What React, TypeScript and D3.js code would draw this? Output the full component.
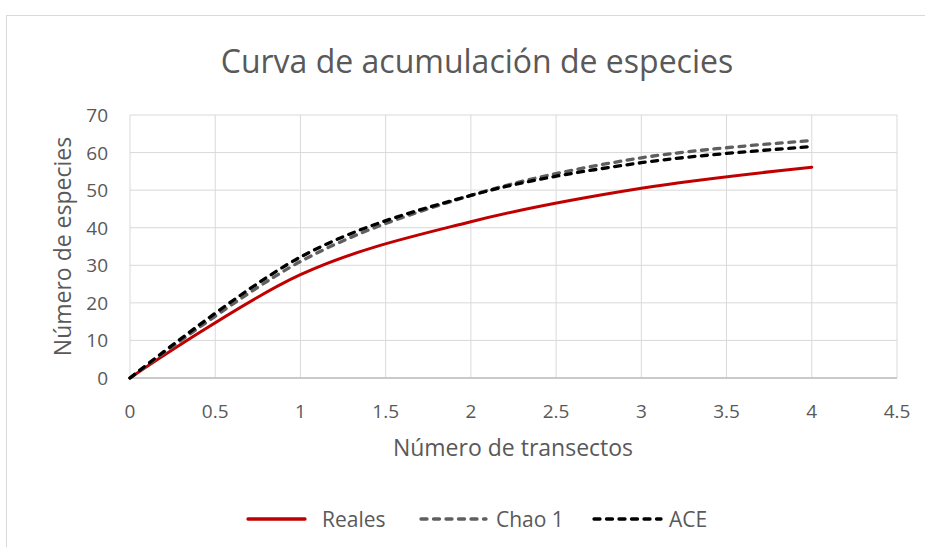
import React from "react";
import * as d3 from "d3";

const transectos = [0, 1, 2, 3, 4];
const reales = [0, 27.5, 41.6, 50.5, 56.1];
const chao1 = [0, 31, 48.6, 58.6, 63.2];
const ace = [0, 32.2, 48.6, 57.3, 61.6];
const xTicks = [0, 0.5, 1, 1.5, 2, 2.5, 3, 3.5, 4, 4.5];
const yTicks = [0, 10, 20, 30, 40, 50, 60, 70];

const series = [
  { name: "Reales", values: reales, color: "#c00000", dash: null },
  { name: "Chao 1", values: chao1, color: "#5f5f5f", dash: "6 6.5" },
  { name: "ACE", values: ace, color: "#000000", dash: "6 6.5" },
];

const W = 925;
const H = 547;
const margin = { left: 130, right: 28, top: 115, bottom: 169 };
const font = "'Open Sans', sans-serif";
const textColor = "#595959";

export default function App() {
  const x = d3.scaleLinear().domain([0, 4.5]).range([margin.left, W - margin.right]);
  const y = d3.scaleLinear().domain([0, 70]).range([H - margin.bottom, margin.top]);
  const line = d3
    .line<number>()
    .x((_, i) => x(transectos[i]))
    .y((d) => y(d))
    .curve(d3.curveCatmullRom.alpha(0));

  const legendItems = [
    { x1: 248, x2: 305, tx: 322 },
    { x1: 421, x2: 486, tx: 496 },
    { x1: 594, x2: 661, tx: 669 },
  ];

  return (
    <svg
      width={W}
      height={H}
      style={{ position: "absolute", left: 0, top: 0, background: "#fff" }}
      fontFamily={font}
    >
      <rect x={6.5} y={15.5} width={W + 10} height={H + 10} fill="#fff" stroke="#d9d9d9" />
      <text x={477} y={73} textAnchor="middle" fontSize={32} fill={textColor}>
        Curva de acumulación de especies
      </text>

      {/* grid */}
      {yTicks.map((t) => (
        <line key={"gy" + t} x1={x(0)} x2={x(4.5)} y1={y(t)} y2={y(t)} stroke="#d9d9d9" strokeWidth={1} />
      ))}
      {xTicks.map((t) => (
        <line key={"gx" + t} x1={x(t)} x2={x(t)} y1={y(0)} y2={y(70)} stroke="#d9d9d9" strokeWidth={1} />
      ))}
      <line x1={x(0)} x2={x(4.5)} y1={y(0)} y2={y(0)} stroke="#bfbfbf" strokeWidth={1.3} />

      {/* tick labels */}
      {yTicks.map((t) => (
        <text key={"ty" + t} x={108} y={y(t) + 7} textAnchor="end" fontSize={19} fill={textColor}>
          {t}
        </text>
      ))}
      {xTicks.map((t) => (
        <text key={"tx" + t} x={x(t)} y={418} textAnchor="middle" fontSize={19} fill={textColor}>
          {t}
        </text>
      ))}

      <text x={513} y={456} textAnchor="middle" fontSize={23} fill={textColor}>
        Número de transectos
      </text>
      <text
        transform={`translate(71,${(y(0) + y(70)) / 2}) rotate(-90)`}
        textAnchor="middle"
        fontSize={23}
        fill={textColor}
      >
        Número de especies
      </text>

      {/* lines */}
      {series.map((s) => (
        <path
          key={s.name}
          d={line(s.values) || ""}
          fill="none"
          stroke={s.color}
          strokeWidth={s.dash ? 3.3 : 3}
          strokeDasharray={s.dash || undefined}
          strokeLinecap="round"
        />
      ))}

      {/* legend */}
      {series.map((s, i) => (
        <g key={"lg" + s.name}>
          <line
            x1={legendItems[i].x1}
            x2={legendItems[i].x2}
            y1={519}
            y2={519}
            stroke={s.color}
            strokeWidth={3.3}
            strokeDasharray={s.dash || undefined}
            strokeLinecap="round"
          />
          <text x={legendItems[i].tx} y={527} fontSize={21} fill={textColor}>
            {s.name}
          </text>
        </g>
      ))}
    </svg>
  );
}
